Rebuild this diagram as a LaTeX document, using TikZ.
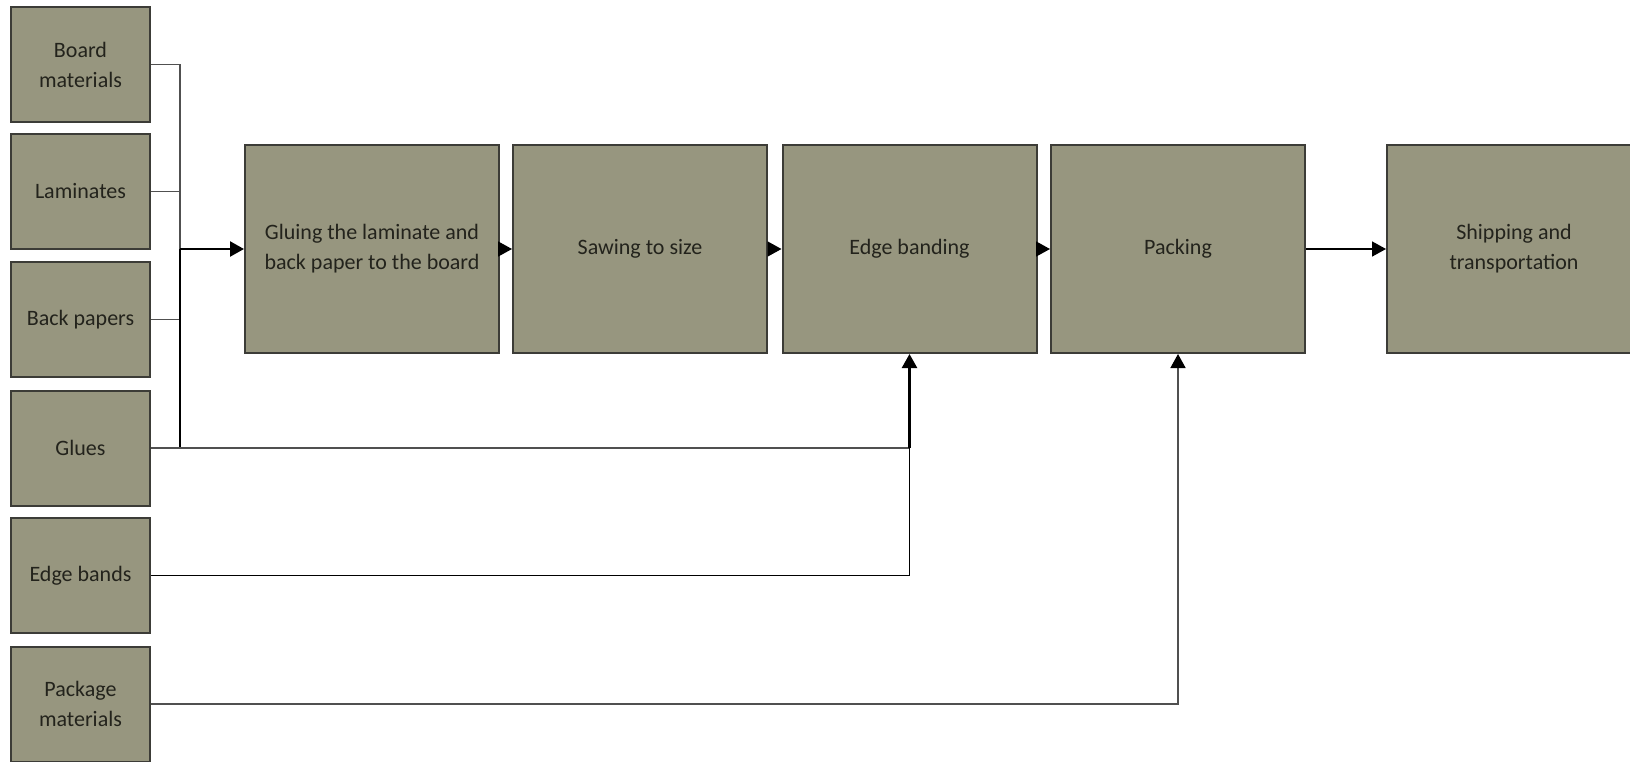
\documentclass[tikz,border=0pt]{standalone}
\usepackage{fontspec}
\setmainfont{Carlito}
\usetikzlibrary{arrows.meta}
\definecolor{boxfill}{RGB}{151,150,127}
\definecolor{boxline}{RGB}{60,60,55}
\definecolor{txt}{RGB}{35,35,28}
\definecolor{thinline}{RGB}{80,80,80}
\tikzset{
  box/.style={draw=boxline, line width=2pt, fill=boxfill, inner sep=0pt,
    align=center, text=txt, font=\fontsize{22}{30}\selectfont},
  srcbox/.style={box, minimum width=139pt, minimum height=115pt},
  procbox/.style={box, minimum width=254pt, minimum height=208pt},
  ln/.style={draw=thinline, line width=1.6pt},
  thick ln/.style={draw=black, line width=2.4pt},
  tip/.style={-{Triangle[length=14pt,width=15pt,black]}},
  arr/.style={tip, draw=black, line width=1.6pt},
}
\begin{document}
\begin{tikzpicture}[x=1pt, y=-1pt]
\useasboundingbox (0,0) rectangle (1630,761);
\fill[white] (0,0) rectangle (1630,761);
\begin{scope}
\clip (0,0) rectangle (1630,761);
% source boxes
\node[srcbox] (board) at (80.5,64.5) {Board\\materials};
\node[srcbox] (lam) at (80.5,191.5) {Laminates};
\node[srcbox] (back) at (80.5,319.5) {Back papers};
\node[srcbox] (glues) at (80.5,448) {Glues};
\node[srcbox] (bands) at (80.5,575.5) {Edge bands};
\node[srcbox] (pkg) at (80.5,704) {Package\\materials};
% process boxes
\node[procbox] (glue) at (372,249) {Gluing the laminate and\\back paper to the board};
\node[procbox] (saw) at (640,249) {Sawing to size};
\node[procbox] (edge) at (909.5,249) {Edge banding};
\node[procbox] (pack) at (1178,249) {Packing};
\node[procbox] (ship) at (1514,249) {Shipping and\\transportation};
\coordinate (bus) at (180,249);
\coordinate (join) at (edge.south |- glues.east);
% connectors
\draw[ln] (board.east) -| (bus);
\draw[ln] (lam.east) -| (bus);
\draw[ln] (back.east) -| (bus);
\draw[thick ln] (glues.east) -| (bus);
\draw[arr, line width=2.4pt] (bus) -- (glue.west);
\draw[arr] (glue.east) -- (saw.west);
\draw[arr] (saw.east) -- (edge.west);
\draw[arr] (edge.east) -- (pack.west);
\draw[arr] (pack.east) -- (ship.west);
\draw[ln] (glues.east) -- (join);
\draw[draw=black, line width=1.6pt] (bands.east) -| (join);
\draw[arr, line width=2.4pt] (join) -- (edge.south);
\draw[ln, tip] (pkg.east) -| (pack.south);
\end{scope}
\end{tikzpicture}
\end{document}
